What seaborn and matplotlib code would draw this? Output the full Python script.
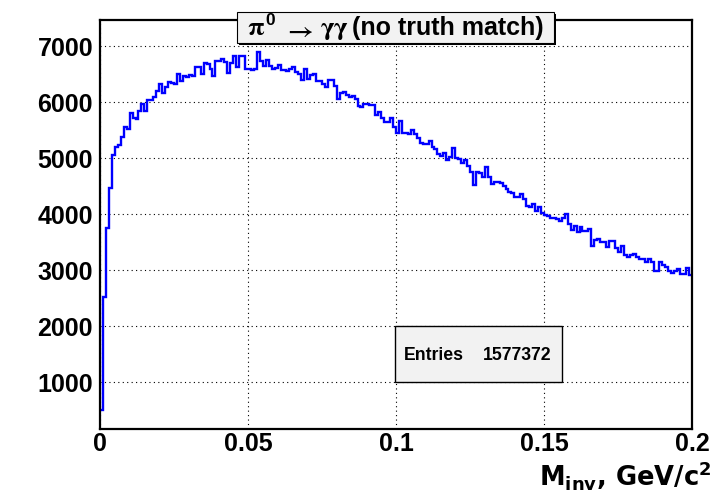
import numpy as np
import pandas as pd
import matplotlib
matplotlib.use("Agg")
import matplotlib.pyplot as plt
import seaborn as sns
from matplotlib.patches import Rectangle
from matplotlib.ticker import MultipleLocator

# ---------------- data ----------------
counts = [
    505, 2523, 3750, 4475, 5065, 5196, 5230, 5386, 5565, 5523,
    5803, 5725, 5702, 5850, 5970, 5845, 6046, 6046, 6089, 6207,
    6321, 6171, 6279, 6368, 6350, 6335, 6510, 6386, 6475, 6446,
    6493, 6475, 6636, 6636, 6511, 6707, 6690, 6600, 6470, 6743,
    6743, 6773, 6725, 6529, 6707, 6827, 6625, 6832, 6820, 6595,
    6595, 6577, 6595, 6904, 6743, 6654, 6755, 6654, 6595, 6618,
    6671, 6583, 6583, 6564, 6600, 6636, 6541, 6500, 6393, 6595,
    6416, 6482, 6500, 6375, 6375, 6321, 6273, 6404, 6404, 6297,
    6059, 6166, 6184, 6130, 6095, 6113, 6054, 5939, 5916, 5975,
    5975, 5957, 5946, 5779, 5821, 5714, 5654, 5643, 5720, 5565,
    5457, 5666, 5457, 5450, 5440, 5505, 5428, 5368, 5279, 5261,
    5261, 5309, 5196, 5172, 5077, 5036, 5100, 4975, 5029, 5184,
    5011, 4993, 4922, 4970, 4863, 4761, 4529, 4761, 4743, 4672,
    4845, 4661, 4547, 4571, 4583, 4554, 4511, 4452, 4404, 4386,
    4309, 4309, 4363, 4279, 4148, 4136, 4184, 4059, 4136, 4029,
    3982, 3975, 3929, 3929, 3911, 3875, 3929, 4000, 3821, 3720,
    3797, 3690, 3779, 3708, 3708, 3732, 3439, 3541, 3565, 3500,
    3500, 3422, 3518, 3518, 3393, 3327, 3429, 3279, 3243, 3273,
    3297, 3238, 3207, 3207, 3154, 3207, 3154, 2993, 2993, 3154,
    3089, 3059, 2988, 2957, 2982, 3023, 2939, 2939, 3046, 2911,
]
x_min, x_max, n_bins = 0.0, 0.2, 200
entries = 1577372
title_particle = r"$\mathrm{\pi}$"
title_charge = "0"
title_arrow = r"$\rightarrow$"
title_products = r"$\mathrm{\gamma\gamma}$"
title_rest = "(no truth match)"
x_label = r"M$_{\mathbf{inv}}$, GeV/c$^{\mathbf{2}}$"
x_ticks = [0.0, 0.05, 0.1, 0.15, 0.2]
x_tick_labels = ["0", "0.05", "0.1", "0.15", "0.2"]
y_ticks = [1000, 2000, 3000, 4000, 5000, 6000, 7000]
y_tick_labels = ["1000", "2000", "3000", "4000", "5000", "6000", "7000"]
y_range = (165, 7470)

# ---------------- style ----------------
sns.set_style("white")
plt.rcParams.update({
    "font.family": ["Liberation Sans", "DejaVu Sans"],
    "font.weight": "bold",
    "mathtext.fontset": "custom",
    "mathtext.rm": "Liberation Serif",
    "mathtext.it": "Liberation Serif:italic",
    "mathtext.bf": "Liberation Sans:bold",
    "mathtext.sf": "Liberation Sans",
})

W, H = 720, 500
fig = plt.figure(figsize=(W / 100, H / 100), dpi=100)
fig.patch.set_facecolor("white")


def fx(px):
    return px / W


def fy(py):
    return 1 - py / H


ax = fig.add_axes([fx(100), fy(429), fx(692) - fx(100), fy(20) - fy(429)])
ax.set_facecolor("white")

edges = np.linspace(x_min, x_max, n_bins + 1)
centers = 0.5 * (edges[:-1] + edges[1:])
df = pd.DataFrame({"minv": centers, "n": counts})

sns.histplot(data=df, x="minv", weights="n", bins=n_bins, binrange=(x_min, x_max),
             element="step", fill=False, color="#0000ff", linewidth=1.7,
             solid_joinstyle="miter", ax=ax)

ax.set_xlim(x_min, x_max)
ax.set_ylim(*y_range)
ax.set_xlabel("")
ax.set_ylabel("")

ax.set_xticks(x_ticks, x_tick_labels)
ax.set_yticks(y_ticks, y_tick_labels)
ax.xaxis.set_minor_locator(MultipleLocator(0.01))
ax.yaxis.set_minor_locator(MultipleLocator(200))
ax.tick_params(axis="both", which="both", direction="in", color="black",
               top=False, right=False, labelsize=18, labelcolor="black")
ax.tick_params(axis="both", which="major", length=12.5, width=1.0)
ax.tick_params(axis="both", which="minor", length=6.5, width=1.0)
ax.tick_params(axis="x", which="major", pad=2)
ax.tick_params(axis="y", which="major", pad=5)
for lab in ax.get_xticklabels() + ax.get_yticklabels():
    lab.set_fontweight("bold")

ax.grid(True, which="major", linestyle=(0, (1, 3)), color="black", linewidth=0.8)
for sp in ax.spines.values():
    sp.set_visible(True)
    sp.set_color("black")
    sp.set_linewidth(1.6)

# ---------------- title box ----------------
tx0, tx1, ty0, ty1 = 237, 554, 12, 43
fig.patches.append(Rectangle((fx(tx0 + 2), fy(ty1 + 2)), fx(tx1) - fx(tx0), fy(ty0) - fy(ty1),
                             transform=fig.transFigure, facecolor="black",
                             edgecolor="none", zorder=5))
fig.patches.append(Rectangle((fx(tx0), fy(ty1)), fx(tx1) - fx(tx0), fy(ty0) - fy(ty1),
                             transform=fig.transFigure, facecolor="#f2f2f2",
                             edgecolor="black", linewidth=0.8, zorder=6))
fig.text(fx(247), fy(35), title_particle, ha="left", va="baseline",
         fontsize=19, math_fontfamily="stix", color="black", zorder=7)
fig.text(fx(265), fy(25), title_charge, ha="left", va="baseline",
         fontsize=12.5, fontweight="bold", color="black", zorder=7)
fig.text(fx(298), fy(30.5), title_arrow, ha="center", va="center",
         fontsize=19, math_fontfamily="stix", color="black", zorder=7)
fig.text(fx(320), fy(35), title_products, ha="left", va="baseline",
         fontsize=19, math_fontfamily="stix", color="black", zorder=7)
fig.text(fx(352), fy(35), title_rest, ha="left", va="baseline",
         fontsize=18, fontweight="bold", color="black", zorder=7)

# ---------------- stats box ----------------
sx0, sx1, sy0, sy1 = 395, 562, 326, 382
fig.patches.append(Rectangle((fx(sx0), fy(sy1)), fx(sx1) - fx(sx0), fy(sy0) - fy(sy1),
                             transform=fig.transFigure, facecolor="#f2f2f2",
                             edgecolor="black", linewidth=1.0, zorder=6))
fig.text(fx(404), fy(360), "Entries", ha="left", va="baseline",
         fontsize=12.7, fontweight="bold", color="black", zorder=7)
fig.text(fx(551), fy(360), f"{entries}", ha="right", va="baseline",
         fontsize=12.7, fontweight="bold", color="black", zorder=7)

# ---------------- x axis label ----------------
fig.text(fx(711), fy(486), x_label, ha="right", va="baseline",
         fontsize=18.5, fontweight="bold", family="DejaVu Sans",
         math_fontfamily="dejavusans", color="black", zorder=7)

fig.savefig("out.png", dpi=100)
